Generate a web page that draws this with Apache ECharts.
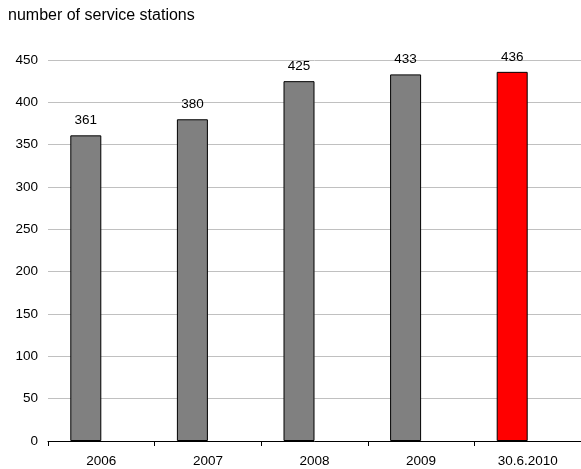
<!DOCTYPE html>
<html>
<head>
<meta charset="utf-8">
<script src="https://cdn.jsdelivr.net/npm/echarts@6/dist/echarts.min.js"></script>
<style>
  html, body { margin: 0; padding: 0; background: #fff; }
  #chart { width: 581px; height: 469px; }
</style>
</head>
<body>
<div id="chart"></div>
<script>
// Service station counts per year
const categories = ['2006', '2007', '2008', '2009', '30.6.2010'];
const stations = [361, 380, 425, 433, 436];
const barColors = ['#808080', '#808080', '#808080', '#808080', '#ff0000'];
const yTicks = { min: 0, max: 450, interval: 50 };

const chart = echarts.init(document.getElementById('chart'), null, { renderer: 'canvas' });
const font = 'Liberation Sans, Arial, sans-serif';

chart.setOption({
  animation: false,
  textStyle: { fontFamily: font },
  graphic: [{
    type: 'text', left: 8, top: 8,
    style: { text: 'number of service stations', fontSize: 16, fontFamily: font, fill: '#000' }
  }],
  grid: { left: 48, right: -2, top: 60, bottom: 28, containLabel: false },
  xAxis: {
    type: 'category',
    data: categories,
    axisLine: { lineStyle: { color: '#000', width: 1 } },
    axisTick: { show: true, length: 5, lineStyle: { color: '#000' }, alignWithLabel: false },
    axisLabel: { color: '#000', fontSize: 13.5, margin: 13, fontFamily: font }
  },
  yAxis: {
    type: 'value',
    min: yTicks.min, max: yTicks.max, interval: yTicks.interval,
    axisLine: { show: false },
    axisTick: { show: false },
    axisLabel: { color: '#000', fontSize: 13.5, margin: 10, fontFamily: font },
    splitLine: { lineStyle: { color: '#c0c0c0', width: 1 } }
  },
  series: [
    {
      type: 'bar',
      data: stations.map((v, i) => ({ value: v, itemStyle: { color: barColors[i] } })),
      barWidth: 31,
      barGap: '0%',
      itemStyle: { borderColor: '#000', borderWidth: 1 },
      label: { show: true, position: 'top', distance: 8, color: '#000', fontSize: 13.5, fontFamily: font }
    },
    {
      // empty companion series keeps each bar to the left half of its slot
      type: 'bar',
      data: categories.map(() => null),
      barWidth: 31,
      silent: true
    }
  ]
});
</script>
</body>
</html>
